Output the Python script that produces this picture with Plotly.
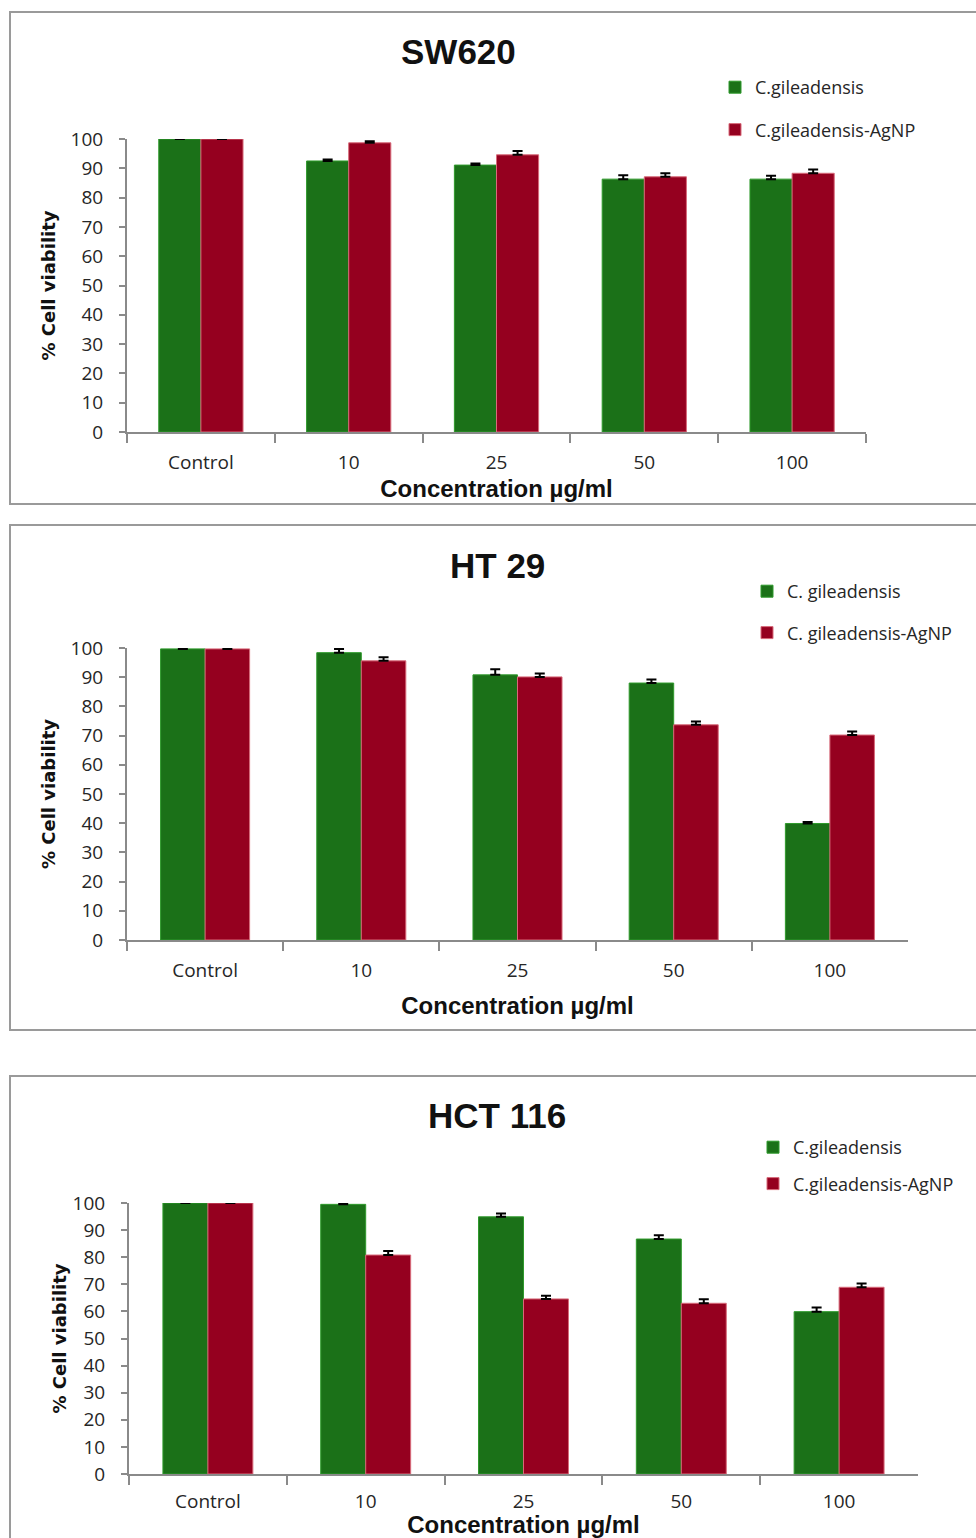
import plotly.graph_objects as go

W, H = 976, 1538

categories = ["Control", "10", "25", "50", "100"]

panel_titles = ["SW620", "HT 29", "HCT 116"]
legend_names_green = ["C.gileadensis", "C. gileadensis", "C.gileadensis"]
legend_names_red = ["C.gileadensis-AgNP", "C. gileadensis-AgNP", "C.gileadensis-AgNP"]

sw620_plain = [100, 92.5, 91.1, 86.3, 86.3]
sw620_plain_err = [0.3, 0.5, 0.5, 1.3, 1.2]
sw620_agnp = [100, 98.7, 94.6, 87.1, 88.3]
sw620_agnp_err = [0.3, 0.5, 1.3, 1.2, 1.3]

ht29_plain = [99.7, 98.4, 90.8, 88.0, 39.9]
ht29_plain_err = [0.3, 1.3, 1.9, 1.2, 0.5]
ht29_agnp = [99.7, 95.6, 90.1, 73.7, 70.2]
ht29_agnp_err = [0.3, 1.2, 1.2, 1.1, 1.2]

hct116_plain = [100, 99.5, 94.9, 86.7, 59.9]
hct116_plain_err = [0.3, 0.2, 1.2, 1.4, 1.5]
hct116_agnp = [100, 80.8, 64.6, 63.0, 68.9]
hct116_agnp_err = [0.3, 1.5, 1.2, 1.5, 1.4]

y_ticks = [0, 10, 20, 30, 40, 50, 60, 70, 80, 90, 100]

GREEN = "#1b7118"
GREEN_EDGE = "#2f9a2c"
RED = "#95001f"
RED_EDGE = "#d86a7a"
AXIS = "#8a8a8a"
TXT = "#262626"
TICKFONT = dict(family="Open Sans, DejaVu Sans, sans-serif", size=19, color=TXT)
TITLEFONT = dict(family="Liberation Sans, Arial, sans-serif", size=35, color="#111", weight="bold")
XTFONT = dict(family="Liberation Sans, Arial, sans-serif", size=24, color="#111", weight="bold")
YTFONT = dict(family="DejaVu Sans, sans-serif", size=18, color="#111", weight="bold")

def py(p):
    return 1 - p / H

def px(p):
    return p / W

# panel geometry (pixels)
panels = [
    dict(x0=127, x1=866, ybot=432, ytop=139, frame=(10, 12, 1000, 504),
         title=(458, 52), leg=(715, 69), gap=16, xstand=0, ystand=10, tls=12),
    dict(x0=127, x1=908, ybot=940, ytop=648, frame=(10, 525, 1000, 1030),
         title=(497, 565), leg=(747, 573), gap=15, xstand=15, ystand=10, tls=12),
    dict(x0=129, x1=918, ybot=1474, ytop=1203, frame=(10, 1076, 1000, 1560),
         title=(497, 1115), leg=(753, 1129), gap=10, xstand=3, ystand=1, tls=9),
]

series = [
    (sw620_plain, sw620_plain_err, sw620_agnp, sw620_agnp_err),
    (ht29_plain, ht29_plain_err, ht29_agnp, ht29_agnp_err),
    (hct116_plain, hct116_plain_err, hct116_agnp, hct116_agnp_err),
]

fig = go.Figure()
layout = dict(
    width=W, height=H,
    margin=dict(l=0, r=0, t=0, b=0, pad=0, autoexpand=False),
    paper_bgcolor="white", plot_bgcolor="white",
    barmode="group", bargap=0.43, bargroupgap=0,
    shapes=[], annotations=[],
)

for i, (pn, (g, ge, r, re)) in enumerate(zip(panels, series)):
    n = i + 1
    xa = "x" if n == 1 else f"x{n}"
    ya = "y" if n == 1 else f"y{n}"
    leg = "legend" if n == 1 else f"legend{n}"
    fig.add_trace(go.Bar(
        x=categories, y=g, name=legend_names_green[i], xaxis=xa, yaxis=ya,
        marker=dict(color=GREEN, line=dict(color=GREEN_EDGE, width=1)),
        error_y=dict(type="data", array=ge, arrayminus=[0] * len(ge), symmetric=False,
                     color="black", thickness=2, width=5),
        legend=leg, legendgroup=f"g{n}", showlegend=True,
    ))
    fig.add_trace(go.Bar(
        x=categories, y=r, name=legend_names_red[i], xaxis=xa, yaxis=ya,
        marker=dict(color=RED, line=dict(color=RED_EDGE, width=1)),
        error_y=dict(type="data", array=re, arrayminus=[0] * len(re), symmetric=False,
                     color="black", thickness=2, width=5),
        legend=leg, legendgroup=f"r{n}", showlegend=True,
    ))
    xkey = "xaxis" if n == 1 else f"xaxis{n}"
    ykey = "yaxis" if n == 1 else f"yaxis{n}"
    layout[xkey] = dict(
        domain=[px(pn["x0"]), px(pn["x1"])], anchor=ya, automargin=False,
        showline=True, linecolor=AXIS, linewidth=2,
        ticks="outside", tickson="boundaries", ticklen=9, tickwidth=2, tickcolor=AXIS,
        tickfont=TICKFONT, ticklabelstandoff=pn["tls"],
        showgrid=False, zeroline=False, fixedrange=True,
        title=dict(text="Concentration µg/ml", font=XTFONT, standoff=pn["xstand"]),
    )
    layout[ykey] = dict(
        domain=[py(pn["ybot"]), py(pn["ytop"])], anchor=xa, automargin=False,
        range=[0, 100], tickvals=y_ticks,
        showline=True, linecolor=AXIS, linewidth=2,
        ticks="outside", ticklen=6, tickwidth=2, tickcolor=AXIS,
        tickfont=TICKFONT, ticklabelstandoff=12,
        showgrid=False, zeroline=False, fixedrange=True,
        title=dict(text="% Cell viability", font=YTFONT, standoff=pn["ystand"]),
    )
    layout[leg] = dict(
        x=px(pn["leg"][0]), y=py(pn["leg"][1]), xanchor="left", yanchor="top",
        orientation="v", tracegroupgap=pn["gap"], bgcolor="rgba(0,0,0,0)",
        font=dict(family="Open Sans, DejaVu Sans, sans-serif", size=18, color=TXT),
        itemclick=False, itemdoubleclick=False,
    )
    fx0, fy0, fx1, fy1 = pn["frame"]
    layout["shapes"].append(dict(
        type="rect", xref="paper", yref="paper",
        x0=px(fx0), x1=px(fx1), y0=py(fy1), y1=py(fy0),
        line=dict(color="#9a9a9a", width=2), fillcolor="rgba(0,0,0,0)", layer="below",
    ))
    layout["annotations"].append(dict(
        text=panel_titles[i], xref="paper", yref="paper",
        x=px(pn["title"][0]), y=py(pn["title"][1]), xanchor="center", yanchor="middle",
        showarrow=False, font=TITLEFONT,
    ))

fig.update_layout(**layout)
fig.write_html(
    "out.html",
    config={"displayModeBar": False, "staticPlot": True},
    post_script=(
        "document.documentElement.style.margin='0';"
        "document.body.style.margin='0';document.body.style.padding='0';"
        "var d=document.getElementById('{plot_id}');"
        "d.style.position='absolute';d.style.top='0px';d.style.left='0px';"
        "document.documentElement.style.overflow='hidden';"
    ),
)
